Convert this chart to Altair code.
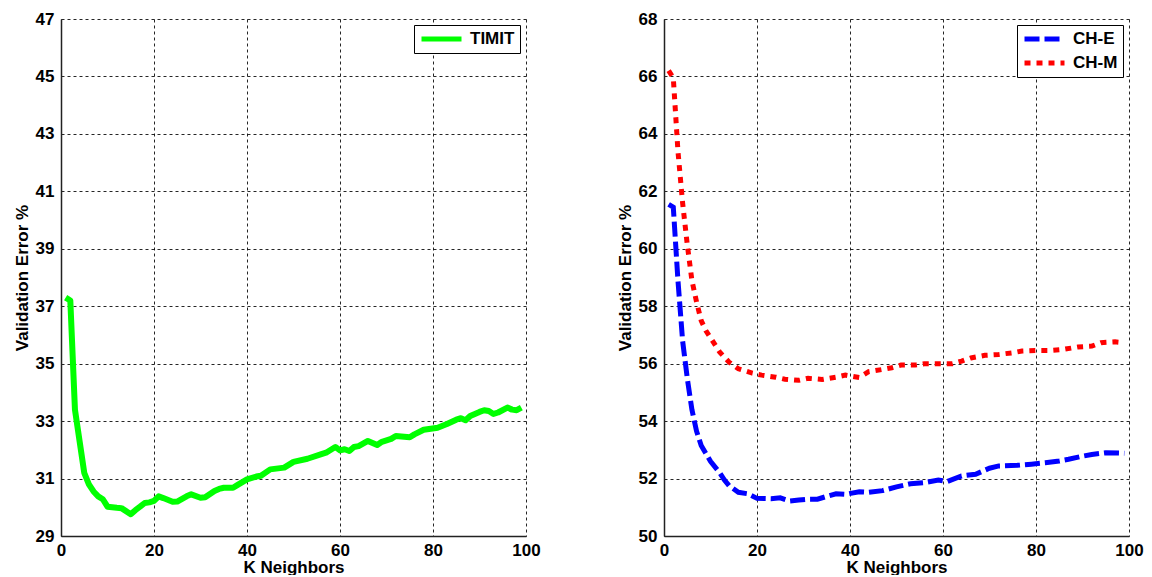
import altair as alt
import pandas as pd

# ---- data ----
timit_k = [1, 2, 3, 4, 5, 6, 7, 8, 9, 10, 12, 13, 15, 16, 17, 18, 19, 20, 21, 22, 24, 25, 27, 28,
           30, 31, 33, 34, 35, 37, 38, 40, 42, 43, 45, 48, 50, 53, 56, 57, 59, 60, 61, 62, 63, 64,
           66, 68, 69, 71, 72, 75, 76, 78, 81, 83, 85, 86, 87, 88, 90, 91, 92, 93, 94, 96, 97, 98, 99]
timit_err = [37.3, 37.2, 33.4, 32.3, 31.2, 30.8, 30.55, 30.38, 30.28, 30.02, 29.98, 29.97, 29.76,
             29.9, 30.02, 30.15, 30.17, 30.22, 30.38, 30.32, 30.19, 30.2, 30.38, 30.45, 30.33,
             30.35, 30.57, 30.64, 30.68, 30.68, 30.78, 30.97, 31.07, 31.1, 31.32, 31.38, 31.58,
             31.69, 31.85, 31.9, 32.1, 31.98, 32.02, 31.96, 32.1, 32.13, 32.31, 32.17, 32.28,
             32.38, 32.48, 32.44, 32.54, 32.7, 32.77, 32.9, 33.05, 33.1, 33.03, 33.18, 33.32,
             33.38, 33.35, 33.25, 33.3, 33.47, 33.4, 33.38, 33.47]

che_k = [1, 2, 3, 4, 5, 6, 7, 8, 10, 12, 13, 14, 16, 18, 20, 23, 25, 27, 29, 31, 33, 35, 37, 39,
         42, 44, 47, 50, 53, 56, 59, 61, 64, 67, 70, 72, 76, 79, 82, 85, 87, 90, 92, 95, 99]
che_err = [61.55, 61.45, 58.9, 56.8, 55.5, 54.4, 53.65, 53.15, 52.6, 52.2, 51.95, 51.75, 51.52,
           51.47, 51.31, 51.3, 51.33, 51.22, 51.25, 51.28, 51.28, 51.38, 51.47, 51.45, 51.54,
           51.52, 51.58, 51.71, 51.82, 51.86, 51.95, 51.9, 52.09, 52.15, 52.36, 52.44, 52.46,
           52.5, 52.55, 52.61, 52.67, 52.78, 52.84, 52.9, 52.88]

chm_k = [1, 2, 3, 4, 5, 6, 7, 8, 9, 10, 12, 14, 16, 19, 21, 24, 26, 29, 31, 34, 37, 39, 42, 44,
         47, 49, 51, 54, 56, 60, 62, 64, 66, 69, 72, 75, 77, 80, 83, 86, 89, 92, 94, 97, 99]
chm_err = [66.2, 65.95, 63.4, 61.6, 60.15, 58.9, 58.15, 57.5, 57.15, 56.9, 56.4, 56.05, 55.82,
           55.67, 55.6, 55.53, 55.46, 55.42, 55.49, 55.45, 55.53, 55.6, 55.52, 55.72, 55.8,
           55.86, 55.95, 55.95, 56.0, 56.0, 56.0, 56.09, 56.2, 56.29, 56.32, 56.38, 56.44,
           56.46, 56.46, 56.5, 56.58, 56.61, 56.73, 56.76, 56.73]

left_ticks = [29, 31, 33, 35, 37, 39, 41, 43, 45, 47]
right_ticks = [50, 52, 54, 56, 58, 60, 62, 64, 66, 68]
x_ticks = [0, 20, 40, 60, 80, 100]

FONT = "Liberation Sans"

left_df = pd.DataFrame({"k": timit_k, "err": timit_err, "series": "TIMIT"})
right_df = pd.concat([
    pd.DataFrame({"k": che_k, "err": che_err, "series": "CH-E"}),
    pd.DataFrame({"k": chm_k, "err": chm_err, "series": "CH-M"}),
])


def legend():
    return alt.Legend(title=None, orient="top-right", offset=6, symbolType="stroke",
                      symbolSize=1600, symbolStrokeWidth=5, labelFont=FONT,
                      labelFontSize=17, labelFontWeight="bold", labelColor="black",
                      strokeColor="black", fillColor="white", padding=5, rowPadding=6,
                      labelOffset=6, labelLimit=200, clipHeight=18)


xenc = alt.X("k:Q", title="K Neighbors",
             scale=alt.Scale(domain=[0, 100], nice=False),
             axis=alt.Axis(values=x_ticks, labelFlush=False, labelPadding=6, titlePadding=1))

left = alt.Chart(left_df).mark_line(strokeWidth=6, strokeJoin="round", strokeCap="butt").encode(
    x=xenc,
    y=alt.Y("err:Q", title="Validation Error %",
            scale=alt.Scale(domain=[29, 47], nice=False, zero=False),
            axis=alt.Axis(values=left_ticks, labelFlush=False, labelPadding=7)),
    color=alt.Color("series:N", scale=alt.Scale(domain=["TIMIT"], range=["#00ff00"]),
                    legend=legend()),
).properties(width=465, height=517)

right = alt.Chart(right_df).mark_line(strokeWidth=5, strokeCap="butt").encode(
    x=xenc,
    y=alt.Y("err:Q", title="Validation Error %",
            scale=alt.Scale(domain=[50, 68], nice=False, zero=False),
            axis=alt.Axis(values=right_ticks, labelFlush=False, labelPadding=7)),
    color=alt.Color("series:N", scale=alt.Scale(domain=["CH-E", "CH-M"],
                                                range=["#0000ff", "#ff0000"]),
                    legend=legend()),
    strokeDash=alt.StrokeDash("series:N", scale=alt.Scale(domain=["CH-E", "CH-M"],
                                                          range=[[15, 5], [6, 6]]),
                              legend=legend()),
).properties(width=465, height=517)

chart = alt.hconcat(left, right, spacing=75).resolve_scale(
    color="independent", strokeDash="independent"
).resolve_legend(color="independent", strokeDash="independent").properties(
    padding={"left": 5, "top": 2, "right": 0, "bottom": 0}, background="white"
).configure_view(strokeWidth=0).configure_axis(
    domainColor="#222", domainWidth=1.5, grid=True, gridColor="#000", gridDash=[3, 3],
    gridWidth=1, gridOpacity=0.85, ticks=False, tickSize=0,
    labelFont=FONT, labelFontSize=17, labelFontWeight="bold", labelColor="black",
    titleFont=FONT, titleFontSize=17, titleFontWeight="bold", titleColor="black",
    titlePadding=4,
)

chart.save("out.html", embed_options={"renderer": "svg", "actions": False})
